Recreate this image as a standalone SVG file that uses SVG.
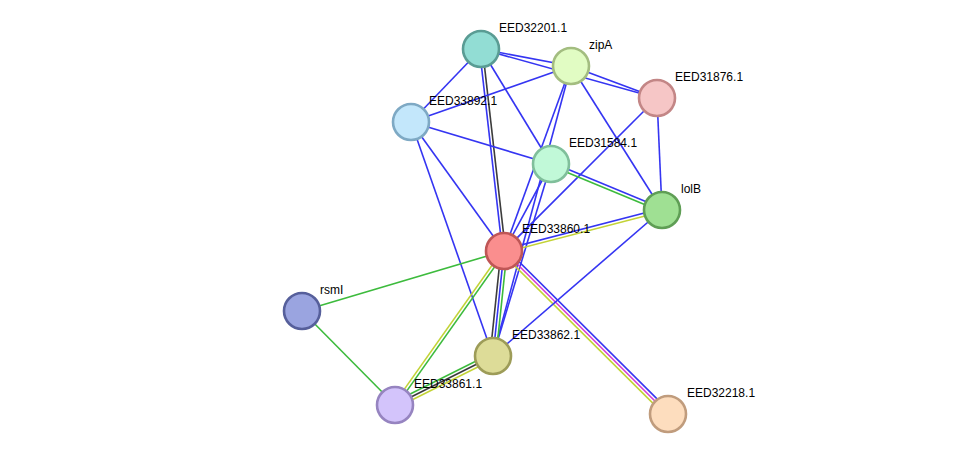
<svg xmlns="http://www.w3.org/2000/svg" width="975" height="460" viewBox="0 0 975 460">
<style>
.e line{stroke-width:1.6;fill:none}
.b{stroke:#3535f2}
.g{stroke:#3dbb3d}
.y{stroke:#c3d336}
.k{stroke:#3c3c3c}
.m{stroke:#d43cd4}
.n circle{stroke-width:2.6}
.n text{font-family:"Liberation Sans",Arial,sans-serif;font-size:12px;fill:#000}
</style>
<rect width="975" height="460" fill="#fff"/>
<g id="connectors" class="e">
<line class="b" x1="481" y1="49" x2="571" y2="66"/>
<line class="b" x1="481" y1="49" x2="657" y2="98"/>
<line class="b" x1="571" y1="66" x2="657" y2="98"/>
<line class="b" x1="481" y1="49" x2="411" y2="122"/>
<line class="b" x1="481" y1="49" x2="551" y2="164"/>
<line class="b" x1="479.5" y1="49.17" x2="502.5" y2="251.17"/>
<line class="k" x1="482.5" y1="48.83" x2="505.5" y2="250.83"/>
<line class="b" x1="571" y1="66" x2="411" y2="122"/>
<line class="b" x1="571" y1="66" x2="504" y2="251"/>
<line class="b" x1="571" y1="66" x2="493" y2="356"/>
<line class="b" x1="571" y1="66" x2="662" y2="210"/>
<line class="b" x1="657" y1="98" x2="504" y2="251"/>
<line class="b" x1="657" y1="98" x2="662" y2="210"/>
<line class="b" x1="411" y1="122" x2="551" y2="164"/>
<line class="b" x1="411" y1="122" x2="504" y2="251"/>
<line class="b" x1="411" y1="122" x2="493" y2="356"/>
<line class="b" x1="551" y1="164" x2="504" y2="251"/>
<line class="b" x1="551" y1="164" x2="493" y2="356"/>
<line class="b" x1="551.57" y1="162.61" x2="662.57" y2="208.61"/>
<line class="g" x1="550.43" y1="165.39" x2="661.43" y2="211.39"/>
<line class="b" x1="503.62" y1="249.55" x2="661.62" y2="208.55"/>
<line class="y" x1="504.38" y1="252.45" x2="662.38" y2="211.45"/>
<line class="k" x1="501.02" y1="250.69" x2="490.02" y2="355.69"/>
<line class="b" x1="504" y1="251" x2="493" y2="356"/>
<line class="g" x1="506.98" y1="251.31" x2="495.98" y2="356.31"/>
<line class="y" x1="502.78" y1="250.13" x2="393.78" y2="404.13"/>
<line class="g" x1="505.22" y1="251.87" x2="396.22" y2="405.87"/>
<line class="g" x1="504" y1="251" x2="302" y2="311"/>
<line class="b" x1="506.12" y1="248.87" x2="670.12" y2="411.87"/>
<line class="m" x1="504" y1="251" x2="668" y2="414"/>
<line class="y" x1="501.88" y1="253.13" x2="665.88" y2="416.13"/>
<line class="b" x1="662" y1="210" x2="493" y2="356"/>
<line class="g" x1="302" y1="311" x2="395" y2="405"/>
<line class="g" x1="491.66" y1="353.32" x2="393.66" y2="402.32"/>
<line class="k" x1="493" y1="356" x2="395" y2="405"/>
<line class="y" x1="494.34" y1="358.68" x2="396.34" y2="407.68"/>
</g>
<g id="EED32201.1" class="n"><circle cx="481" cy="49" r="18" fill="#92ddd4" stroke="#5a9c94"/><text x="499" y="32">EED32201.1</text></g>
<g id="zipA" class="n"><circle cx="571" cy="66" r="18" fill="#e1fcc3" stroke="#a3bd80"/><text x="589" y="49">zipA</text></g>
<g id="EED31876.1" class="n"><circle cx="657" cy="98" r="18" fill="#f6c6c6" stroke="#c38686"/><text x="675" y="81">EED31876.1</text></g>
<g id="EED33892.1" class="n"><circle cx="411" cy="122" r="18" fill="#c3e7fb" stroke="#7ea9c4"/><text x="429" y="105">EED33892.1</text></g>
<g id="EED31584.1" class="n"><circle cx="551" cy="164" r="18" fill="#c1f9d8" stroke="#80bf9b"/><text x="569" y="147">EED31584.1</text></g>
<g id="lolB" class="n"><circle cx="662" cy="210" r="18" fill="#9fe093" stroke="#5f9e55"/><text x="681" y="193">lolB</text></g>
<g id="EED33860.1" class="n"><circle cx="504" cy="251" r="18" fill="#fa8e8e" stroke="#bf5656"/><text x="522" y="233">EED33860.1</text></g>
<g id="rsmI" class="n"><circle cx="302" cy="311" r="18" fill="#9aa4e0" stroke="#565f9b"/><text x="320" y="294">rsmI</text></g>
<g id="EED33862.1" class="n"><circle cx="493" cy="356" r="18" fill="#dddc98" stroke="#9d9c58"/><text x="512" y="339">EED33862.1</text></g>
<g id="EED33861.1" class="n"><circle cx="395" cy="405" r="18" fill="#d3c4fb" stroke="#9684c0"/><text x="414" y="388">EED33861.1</text></g>
<g id="EED32218.1" class="n"><circle cx="668" cy="414" r="18" fill="#fdddbe" stroke="#c09c7d"/><text x="687" y="397">EED32218.1</text></g>
</svg>
